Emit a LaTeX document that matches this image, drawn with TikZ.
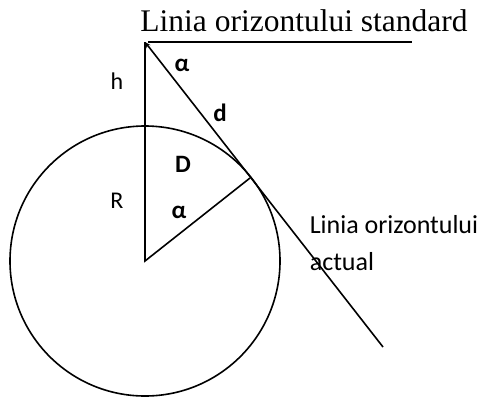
\documentclass[tikz,border=0pt]{standalone}
\usepackage{fontspec}
\setmainfont{Liberation Serif}
\newfontfamily\labfont{Carlito}
\usetikzlibrary{arrows.meta}
\begin{document}
\begin{tikzpicture}[x=1pt,y=-1pt,line width=1.6pt,
  lbl/.style={font=\labfont\fontsize{24}{28}\selectfont,anchor=base,inner sep=0pt},
  blbl/.style={font=\labfont\bfseries\fontsize{25}{28}\selectfont,anchor=base,inner sep=0pt},
  bigl/.style={font=\labfont\fontsize{26}{37}\selectfont,anchor=base west,inner sep=0pt,align=left},
  title/.style={font=\fontsize{31.5}{36}\selectfont,anchor=base,inner sep=0pt}]
\useasboundingbox (0,0) rectangle (484,397);
\coordinate (T) at (145,42);
\coordinate (C) at (145,261);
\coordinate (P) at (250,178);
\coordinate (E) at (383,347);
\coordinate (H1) at (148,42);
\coordinate (H2) at (412,42);
% circle
\draw (C) circle[radius=135pt];
% standard horizon line
\draw (H1) -- (H2);
% vertical and radius
\draw (T) -- (C) -- (P);
% tangent line with tip at observer
\draw[-{Stealth[length=6pt,width=5pt]}] (E) -- (T);
% labels
\node[title] (tt) at (304,31) {Linia orizontului standard};
\node[lbl] (h) at (117,89) {h};
\node[lbl] (R) at (117,208) {R};
\node[blbl] (a1) at (182,71) {α};
\node[blbl] (d) at (220,121) {d};
\node[blbl] (D) at (183,172) {D};
\node[blbl] (a2) at (179,218) {α};
\node[bigl] (act) at (309,270) {Linia orizontului\\actual};
\end{tikzpicture}
\end{document}
